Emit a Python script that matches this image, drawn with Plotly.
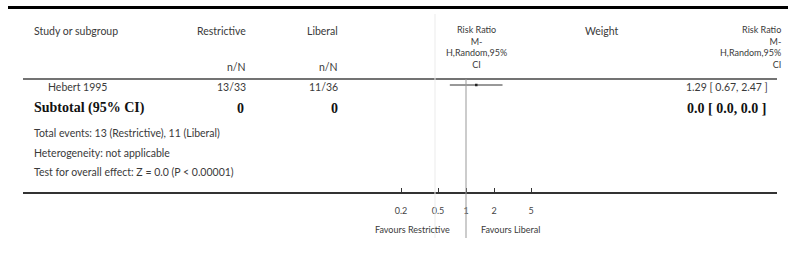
import math
import plotly.graph_objects as go

# ---- data ----
studies = ["Hebert 1995"]
restrictive_nN = ["13/33"]
liberal_nN = ["11/36"]
rr = [1.29]
ci_low = [0.67]
ci_high = [2.47]
rr_text = ["1.29 [ 0.67, 2.47 ]"]

subtotal_label = "Subtotal (95% CI)"
subtotal_restrictive = "0"
subtotal_liberal = "0"
subtotal_rr = "0.0 [ 0.0, 0.0 ]"

notes = [
    "Total events: 13 (Restrictive), 11 (Liberal)",
    "Heterogeneity: not applicable",
    "Test for overall effect: Z = 0.0 (P < 0.00001)",
]
tick_vals = [0.2, 0.5, 1, 2, 5]
tick_text = ["0.2", "0.5", "1", "2", "5"]
favours_left = "Favours Restrictive"
favours_right = "Favours Liberal"

# ---- layout constants (pixels) ----
W, H = 788, 264
FONT = "Lato, 'Open Sans', sans-serif"
SERIF = "'Liberation Serif', 'DejaVu Serif', serif"
TXT = "#3a3a3a"
X_ONE = 466.0        # pixel of RR = 1
PX_DEC = 93.0        # pixels per decade
AX_L, AX_R = 23, 777
AX_Y = 193


def px(x):
    return x / W


def py(y):
    return 1 - y / H


fig = go.Figure()

row_y0 = 85
row_step = 20

for i in range(len(studies)):
    y = row_y0 + i * row_step
    fig.add_trace(go.Scatter(
        x=[ci_low[i], ci_high[i]], y=[y, y], mode="lines",
        line=dict(color="#333", width=1), hoverinfo="skip", showlegend=False))
    fig.add_trace(go.Scatter(
        x=[rr[i]], y=[y], mode="markers",
        marker=dict(symbol="square", size=2.5, color="#222"),
        hoverinfo="skip", showlegend=False))

ann = []


def text(x, y, s, anchor="left", size=10.5, font=FONT, bold=False, color=TXT,
         align=None, yanchor="middle"):
    if bold:
        s = "<b>" + s + "</b>"
    a = dict(x=px(x), y=py(y), xref="paper", yref="paper", text=s,
             showarrow=False, xanchor=anchor, yanchor=yanchor,
             font=dict(family=font, size=size, color=color))
    if align:
        a["align"] = align
    ann.append(a)


# headers
text(32, 31, "Study or subgroup")
text(248, 31, "Restrictive", "right")
text(340, 31, "Liberal", "right")
text(248, 67, "n/N", "right")
text(340, 67, "n/N", "right")
text(476, 46.5, "Risk Ratio<br>M-<br>H,Random,95%<br>CI", "center", size=9,
     align="center")
text(602, 31, "Weight", "center")
text(783, 46.5, "Risk Ratio<br>M-<br>H,Random,95%<br>CI", "right", size=9,
     align="right")

# rows
for i in range(len(studies)):
    y = row_y0 + 2 + i * row_step
    text(46, y, studies[i])
    text(248, y, restrictive_nN[i], "right")
    text(340, y, liberal_nN[i], "right")
    text(770, y, rr_text[i], "right")

sub_y = 108
text(32, sub_y, subtotal_label, size=14, font=SERIF, bold=True, color="#111")
text(246, sub_y, subtotal_restrictive, "right", size=14, font=SERIF, bold=True, color="#111")
text(340, sub_y, subtotal_liberal, "right", size=14, font=SERIF, bold=True, color="#111")
text(768, sub_y, subtotal_rr, "right", size=14, font=SERIF, bold=True, color="#111")

for k, s in enumerate(notes):
    text(32, 133 + k * 19.5, s)

text(X_ONE - 14, 229, favours_left, "right", size=9)
text(X_ONE + 13, 229, favours_right, "left", size=9)

shapes = [
    dict(type="line", xref="paper", yref="paper", x0=px(8), x1=1.0,
         y0=py(7.5), y1=py(7.5), line=dict(color="#000", width=3)),
    dict(type="line", xref="paper", yref="paper", x0=px(23), x1=px(777),
         y0=py(79), y1=py(79), line=dict(color="#444", width=1.5)),
    dict(type="line", xref="paper", yref="paper", x0=px(435), x1=px(435),
         y0=py(14), y1=py(238), line=dict(color="#ebebeb", width=1)),
    dict(type="line", xref="x", yref="paper", x0=1, x1=1,
         y0=py(79), y1=py(238), line=dict(color="#999", width=1)),
]

lo = 10 ** ((AX_L - X_ONE) / PX_DEC)
hi = 10 ** ((AX_R - X_ONE) / PX_DEC)

fig.update_layout(
    width=W, height=H, margin=dict(l=0, r=0, t=0, b=0),
    paper_bgcolor="white", plot_bgcolor="white",
    annotations=ann, shapes=shapes, showlegend=False,
    xaxis=dict(type="log", range=[math.log10(lo), math.log10(hi)],
               domain=[px(AX_L), px(AX_R)], anchor="free",
               position=py(AX_Y), showgrid=False, zeroline=False,
               showline=True, linecolor="#333", linewidth=2,
               ticks="inside", ticklen=4, tickcolor="#333", tickwidth=1,
               tickvals=tick_vals, ticktext=tick_text,
               tickfont=dict(family=FONT, size=9, color="#444"),
               ticklabelstandoff=9, fixedrange=True),
    yaxis=dict(range=[H, 0], domain=[0, 1], visible=False, fixedrange=True),
)

fig.write_html(
    "out.html",
    config={"displayModeBar": False, "staticPlot": True},
    post_script="document.body.style.margin='0px';"
                "document.body.style.overflow='hidden';",
)
